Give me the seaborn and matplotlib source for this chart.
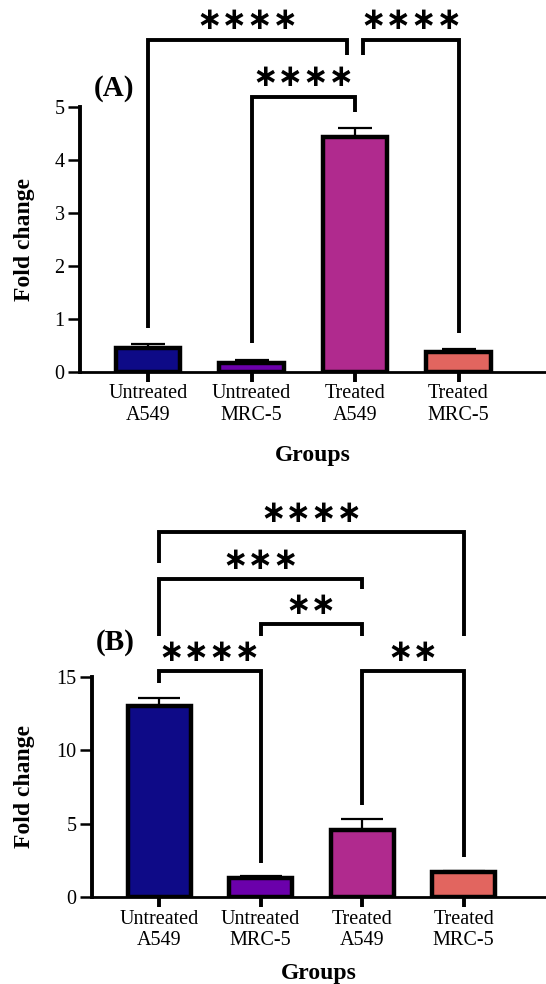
import matplotlib
matplotlib.use("Agg")
import matplotlib.pyplot as plt
import seaborn as sns
import pandas as pd
import numpy as np

sns.set_theme(style="white")
plt.rcParams['font.family'] = ['Liberation Serif', 'DejaVu Serif']
plt.rcParams['text.color'] = 'black'
plt.rcParams['axes.labelcolor'] = 'black'
plt.rcParams['xtick.color'] = 'black'
plt.rcParams['ytick.color'] = 'black'

groups = ["Untreated\nA549", "Untreated\nMRC-5", "Treated\nA549", "Treated\nMRC-5"]
colors = ["#0E0A87", "#6B00AB", "#B02A8E", "#E2655F"]

values_a = [0.45, 0.17, 4.43, 0.38]
errors_a = [0.07, 0.06, 0.17, 0.05]
values_b = [13.0, 1.3, 4.6, 1.7]
errors_b = [0.6, 0.1, 0.7, 0.1]

# brackets: (x_left, x_right, y_top, y_left_end, y_right_end, label)
brackets_a = [
    (0.0, 1.92, 6.26, 0.83, 5.98, "∗∗∗∗"),
    (2.08, 3.0, 6.26, 5.98, 0.73, "∗∗∗∗"),
    (1.0, 2.0, 5.19, 0.54, 4.90, "∗∗∗∗"),
]
brackets_b = [
    (0.0, 1.0, 15.4, 14.6, 2.3, "∗∗∗∗"),
    (2.0, 3.0, 15.4, 6.3, 2.7, "∗∗"),
    (1.0, 2.0, 18.6, 17.8, 17.8, "∗∗"),
    (0.0, 2.0, 21.7, 17.8, 21.0, "∗∗∗"),
    (0.0, 3.0, 24.9, 22.8, 17.8, "∗∗∗∗"),
]

W, H = 546, 984
fig = plt.figure(figsize=(W / 100, H / 100), dpi=100)

def px_axes(left, right, top, bottom):
    return fig.add_axes([left / W, 1 - bottom / H, (right - left) / W, (bottom - top) / H])

ax_a = px_axes(80, 546, 107, 372)
ax_b = px_axes(92, 546, 677, 897)

def panel(ax, values, errors, brackets, ylim, yticks, xlim, capsize, label_off, ylab_x, xlab_y):
    df = pd.DataFrame({"group": groups, "value": values})
    sns.barplot(data=df, x="group", y="value", hue="group", palette=colors,
                width=0.62, edgecolor="black", linewidth=3.2, saturation=1,
                legend=False, ax=ax, zorder=2)
    x = np.arange(len(groups))
    ax.errorbar(x, values, yerr=[np.zeros(len(values)), errors], fmt="none",
                ecolor="black", elinewidth=1.6, capsize=capsize, capthick=1.6, zorder=1)
    ax.set_ylim(*ylim)
    ax.set_xlim(*xlim)
    ax.set_yticks(yticks)
    ax.set_yticklabels([str(t) for t in yticks], fontsize=14.5)
    ax.set_xticks(x)
    ax.set_xticklabels(groups, fontsize=14.5)
    for s in ["top", "right"]:
        ax.spines[s].set_visible(False)
    ax.spines["left"].set_linewidth(2.8)
    ax.spines["bottom"].set_linewidth(2.0)
    ax.spines["left"].set_color("black")
    ax.spines["bottom"].set_color("black")
    ax.tick_params(axis="y", length=9, width=1.8, color="black", pad=2, left=True)
    ax.tick_params(axis="x", length=7, width=2.8, color="black", pad=2, bottom=True)
    ax.set_ylabel("Fold change", fontsize=17, fontweight="bold")
    ax.set_xlabel("Groups", fontsize=17, fontweight="bold")
    ax.yaxis.set_label_coords(ylab_x, 0.5)
    ax.xaxis.set_label_coords(0.5, xlab_y)
    ax.grid(False)
    for x1, x2, yt, yl, yr, lab in brackets:
        ax.plot([x1, x1, x2, x2], [yl, yt, yt, yr], color="black", lw=2.8,
                clip_on=False, solid_joinstyle="miter", solid_capstyle="butt")
        ax.text((x1 + x2) / 2, yt + label_off, lab, ha="center", va="center",
                fontsize=22, fontweight="bold", family=["DejaVu Sans"], clip_on=False)

panel(ax_a, values_a, errors_a, brackets_a, (0, 5), [0, 1, 2, 3, 4, 5],
      (-0.657, 3.845), 12, 0.37, -0.097, -0.275)
panel(ax_b, values_b, errors_b, brackets_b, (0, 15), [0, 5, 10, 15],
      (-0.66, 3.81), 15, 1.25, -0.126, -0.30)

fig.text(114 / W, 1 - 88 / H, "(A)", fontsize=21, fontweight="bold", ha="center", va="center")
fig.text(115 / W, 1 - 643 / H, "(B)", fontsize=21, fontweight="bold", ha="center", va="center")

fig.savefig("out.png", dpi=100)
